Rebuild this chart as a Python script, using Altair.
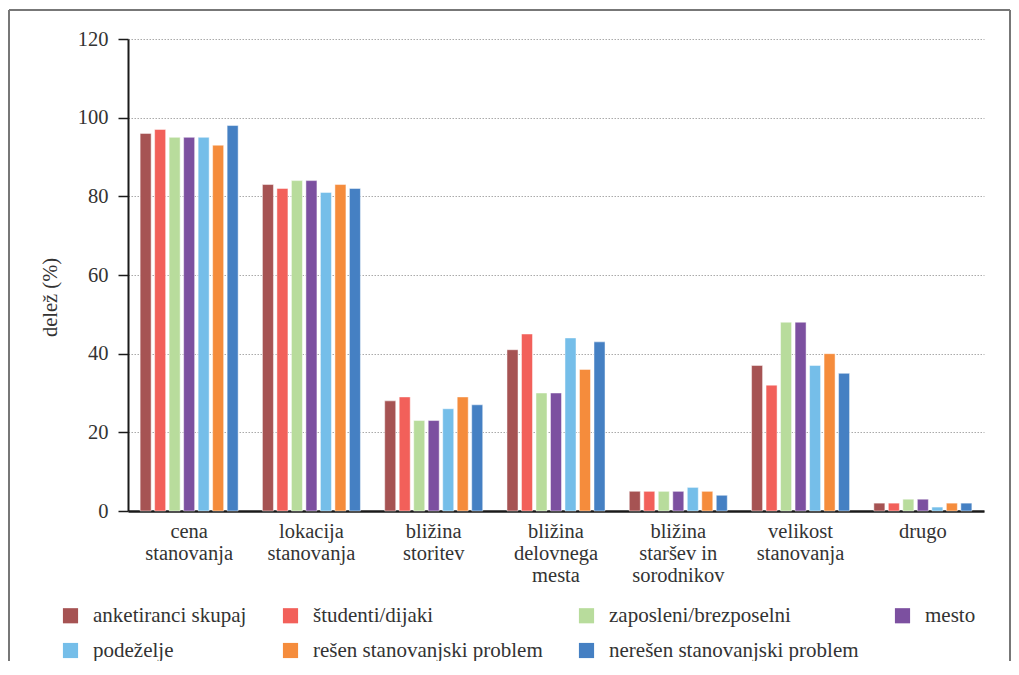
import altair as alt
import pandas as pd

categories = [
    "cena\nstanovanja",
    "lokacija\nstanovanja",
    "bližina\nstoritev",
    "bližina\ndelovnega\nmesta",
    "bližina\nstaršev in\nsorodnikov",
    "velikost\nstanovanja",
    "drugo",
]
series = [
    "anketiranci skupaj",
    "študenti/dijaki",
    "zaposleni/brezposelni",
    "mesto",
    "podeželje",
    "rešen stanovanjski problem",
    "nerešen stanovanjski problem",
]
colors = ["#A65353", "#F2605A", "#B8DC9C", "#7C50A0", "#75BEE9", "#F58C3C", "#4580C3"]

values = {
    "anketiranci skupaj":           [96, 83, 28, 41, 5, 37, 2],
    "študenti/dijaki":              [97, 82, 29, 45, 5, 32, 2],
    "zaposleni/brezposelni":        [95, 84, 23, 30, 5, 48, 3],
    "mesto":                        [95, 84, 23, 30, 5, 48, 3],
    "podeželje":                    [95, 81, 26, 44, 6, 37, 1],
    "rešen stanovanjski problem":   [93, 83, 29, 36, 5, 40, 2],
    "nerešen stanovanjski problem": [98, 82, 27, 43, 4, 35, 2],
}
y_ticks = [0, 20, 40, 60, 80, 100, 120]

rows = []
for s in series:
    for c, v in zip(categories, values[s]):
        rows.append({"kategorija": c, "skupina": s, "delez": v})
df = pd.DataFrame(rows)

FONT = "'Liberation Serif', 'Times New Roman', Times, serif"

bars = alt.Chart(df).mark_bar(stroke="white", strokeWidth=0.8, strokeOpacity=0.6).encode(
    x=alt.X(
        "kategorija:N",
        sort=categories,
        scale=alt.Scale(paddingInner=0.17, paddingOuter=0.085),
        axis=alt.Axis(
            title=None,
            labelAngle=0,
            ticks=False,
            labelExpr="split(datum.label, '\\n')",
            labelLineHeight=22,
            labelPadding=10,
            labelFontSize=20.5,
            labelFont=FONT,
            labelColor="#333333",
            domainColor="#1a1a1a",
            domainWidth=2.5,
            grid=False,
        ),
    ),
    xOffset=alt.XOffset(
        "skupina:N",
        sort=series,
        scale=alt.Scale(paddingInner=0.24, paddingOuter=0.12),
    ),
    y=alt.Y(
        "delez:Q",
        scale=alt.Scale(domain=[0, 120], nice=False),
        axis=alt.Axis(
            title="delež (%)",
            values=y_ticks,
            titleFont=FONT,
            titleFontSize=20.5,
            titleFontWeight="normal",
            titleColor="#333333",
            titleX=-78,
            titleY=258,
            titleAngle=270,
            titleAlign="center",
            titleBaseline="middle",
            labelFont=FONT,
            labelFontSize=20.5,
            labelColor="#333333",
            labelPadding=10,
            tickSize=10,
            tickColor="#1a1a1a",
            tickWidth=1.5,
            domainColor="#1a1a1a",
            domainWidth=2,
            grid=True,
            gridColor="#aaaaaa",
            gridDash=[1.5, 1.5],
            gridWidth=1,
        ),
    ),
    color=alt.Color(
        "skupina:N",
        sort=series,
        scale=alt.Scale(domain=series, range=colors),
        legend=alt.Legend(
            title=None,
            orient="none",
            legendX=-68,
            legendY=566,
            direction="horizontal",
            columns=4,
            columnPadding=33,
            rowPadding=13,
            symbolType="square",
            symbolSize=230,
            symbolStrokeWidth=0,
            symbolOffset=0,
            labelOffset=12,
            labelFont=FONT,
            labelFontSize=21,
            labelColor="#333333",
            labelLimit=400,
        ),
    ),
)

frame_df = pd.DataFrame({"k": [0]})
frame_left = alt.Chart(frame_df).mark_rule(color="#777777", strokeWidth=2).encode(
    x=alt.value(-119), y=alt.value(-29), y2=alt.value(700)
)
frame_right = alt.Chart(frame_df).mark_rule(color="#777777", strokeWidth=2).encode(
    x=alt.value(882), y=alt.value(-29), y2=alt.value(700)
)
frame_top = alt.Chart(frame_df).mark_rule(color="#777777", strokeWidth=2).encode(
    x=alt.value(-119), x2=alt.value(882), y=alt.value(-29)
)

chart = alt.layer(bars, frame_left, frame_right, frame_top).properties(
    width=856,
    height=472,
    autosize=alt.AutoSizeParams(type="none"),
    padding={"left": 120, "top": 31, "right": 27, "bottom": 150},
    background="white",
).configure_view(stroke=None)

chart.save("out.html", embed_options={"renderer": "svg", "actions": False})
